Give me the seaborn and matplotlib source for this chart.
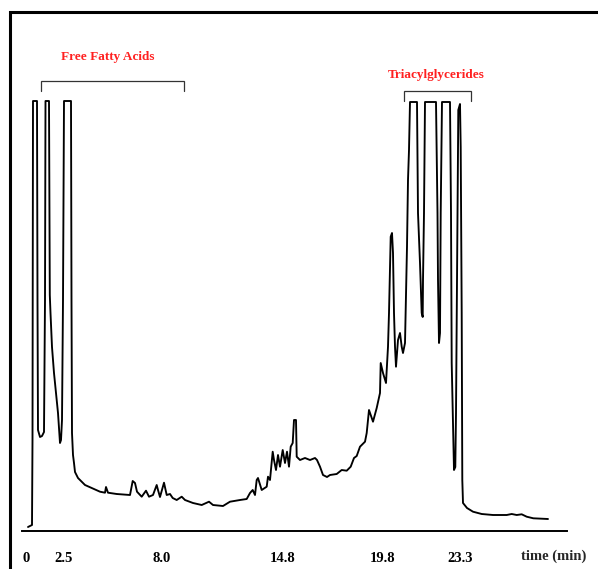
import numpy as np
import pandas as pd
import matplotlib
matplotlib.use("Agg")
import matplotlib.pyplot as plt
from matplotlib.lines import Line2D
import seaborn as sns

# ---- data (position along the recorder trace, detector signal) ----
position = [28, 30, 32, 32.5, 33, 37, 37.5, 38, 40, 42, 44, 45, 45.5, 49, 49.8, 50.5, 52, 54, 56, 58, 60, 61, 62, 63,
            64, 71, 71.5, 72, 73, 74, 75, 78, 80, 85, 91.7, 100, 105, 106, 108, 116.7, 130, 132.7, 135, 137,
            141.7, 146, 149, 153, 156.7, 158, 160, 164, 166.7, 170, 172.7, 176.7, 181.7, 185, 193, 201.7, 209,
            213, 223, 230, 240, 246.7, 250, 252.7, 255, 256.7, 258, 261.7, 266.7, 268, 270, 272.7, 274, 276,
            278, 280, 282.7, 285, 287, 289, 290.7, 292.7, 294, 296, 296.7, 300, 305, 310, 315, 317, 320, 323,
            327, 330, 336.7, 341.7, 346.7, 350.7, 354, 356.7, 360, 365, 366.7, 368, 369, 371.7, 373, 376.7,
            380, 380.7, 383, 386, 388, 389, 390.7, 392, 393, 394, 395, 396, 398, 400, 401.7, 403, 405, 406,
            407, 408, 409, 410, 417, 418, 420, 421.7, 422.7, 423, 424, 425, 436, 437.5, 438, 439, 440, 440.7,
            442, 450, 451, 451.7, 454, 455.3, 456, 457.3, 458.3, 460, 460.7, 461.7, 462.3, 463, 467, 473,
            481.7, 493, 506.7, 511.7, 516.7, 521.7, 526.7, 533.3, 548]
pixel_y = [527, 526, 525, 440, 101, 101, 300, 430, 437, 436, 432, 300, 101, 101, 295, 313, 347, 373, 393, 413,
           443, 440, 420, 300, 101, 101, 300, 433, 455, 463, 472, 478, 480, 485, 488, 491.7, 492.7, 487,
           492.7, 494, 495, 481, 483, 491.7, 496.7, 490.7, 496.7, 495, 485, 490, 497, 482.7, 495, 494, 498,
           500, 496.7, 500, 503, 505, 501.7, 505, 506, 501.7, 500, 499, 493, 490, 495, 480, 478, 490, 486.7,
           476.7, 480, 451.7, 460, 470, 455, 466.7, 450, 463, 451.7, 466.7, 446.7, 443, 420, 420, 456.7, 460,
           458, 460, 458, 460, 466.7, 475, 477, 475, 474, 470, 470.7, 466.7, 458, 456, 446.7, 441.7, 433, 420,
           410, 418, 421.7, 408, 393, 363, 373, 383, 346.7, 313, 236.7, 233, 253, 313, 346.7, 366.7, 340, 333,
           346.7, 353, 343, 296.7, 246.7, 180, 150, 102, 102, 213, 263, 313, 317, 280, 213, 102, 102, 213, 280,
           343, 333, 213, 102, 102, 213, 363, 470, 467, 413, 247, 110, 104, 147, 313, 480, 503, 508, 511.7,
           514, 515, 515, 514, 515, 514.3, 516.7, 518.3, 519]
signal = [531 - v for v in pixel_y]

tick_pos = [26, 64, 162, 283, 383, 460]
tick_labels = ["0", "2.5", "8.0", "14.8", "19.8", "23.3"]
axis_title = "time (min)"

groups = ["Free Fatty Acids", "Triacylglycerides"]
group_start = [40.7, 404]
group_end = [184, 471]
group_level = [450, 440]

df = pd.DataFrame({"position": position, "signal": signal})

# ---- figure ----
sns.set_style("white")
plt.rcParams["font.family"] = ["Liberation Serif", "DejaVu Serif"]

W, H = 598, 569
fig = plt.figure(figsize=(W / 100, H / 100), dpi=100)
ax = fig.add_axes([22 / W, 38 / H, 545 / W, 519 / H])

sns.lineplot(data=df, x="position", y="signal", sort=False, estimator=None,
             color="black", linewidth=1.35, ax=ax)

ax.set_xlim(22, 567)
ax.set_ylim(0, 519)
for s in ["top", "right", "left"]:
    ax.spines[s].set_visible(False)
ax.spines["bottom"].set_linewidth(1.4)
ax.spines["bottom"].set_color("black")

ax.set_yticks([])
ax.set_ylabel("")
ax.set_xticks(tick_pos)
ax.set_xticklabels(tick_labels, fontsize=10.5, fontweight="bold")
ax.tick_params(axis="x", length=0, pad=15, colors="black")
ax.set_xticks([22], minor=True)
ax.tick_params(axis="x", which="minor", length=7, width=1.0, direction="out", color="black")
ax.set_xlabel(axis_title, fontsize=10.5, fontweight="bold", va="center")
ax.xaxis.set_label_coords((554 - 22) / 545, -25 / 519)

# group brackets and labels
for name, x0, x1, lvl in zip(groups, group_start, group_end, group_level):
    ax.plot([x0, x0, x1, x1], [lvl - 10, lvl, lvl, lvl - 10], color="#333333", linewidth=0.9,
            solid_joinstyle="miter")
ax.text((60 + 155) / 2, 474, groups[0], color="#ff2020", fontsize=9.5, fontweight="bold",
        ha="center", va="center")
ax.text((386 + 487) / 2, 456, groups[1], color="#ff2020", fontsize=9.5, fontweight="bold",
        ha="center", va="center")

# outer frame (top and left edges)
fig.add_artist(Line2D([10 / W, 10 / W, 1.0], [0.0, 1 - 12 / H, 1 - 12 / H],
                      transform=fig.transFigure, color="black", linewidth=2.2,
                      solid_joinstyle="miter"))

fig.savefig("out.png", dpi=100)
